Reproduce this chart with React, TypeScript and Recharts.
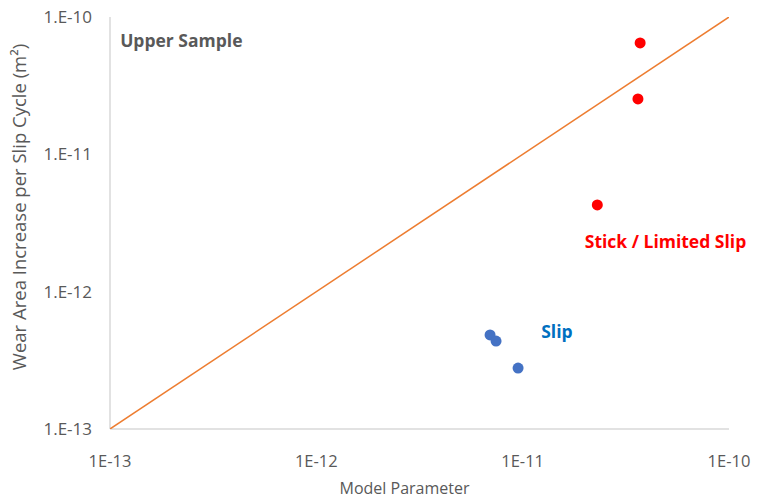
import React from "react"
import {
  ScatterChart,
  Scatter,
  XAxis,
  YAxis,
  ReferenceDot,
  Label,
} from "recharts"

const slipX = [6.95e-12, 7.43e-12, 9.5e-12]
const slipY = [4.84e-13, 4.37e-13, 2.78e-13]
const stickX = [3.71e-11, 3.62e-11, 2.3e-11]
const stickY = [6.47e-11, 2.53e-11, 4.28e-12]

// 1:1 reference line
const fitX = [1e-13, 1e-10]
const fitY = [1e-13, 1e-10]

const ticks = [1e-13, 1e-12, 1e-11, 1e-10]

const toPoints = (xs: number[], ys: number[]) => xs.map((x, i) => ({ x, y: ys[i] }))

const FONT = "'Open Sans', sans-serif"
const GREY = "#595959"

const expLabel = (v: number, dot: boolean) => {
  const e = Math.round(Math.log10(v))
  return dot ? `1.E${e}` : `1E${e}`
}

const annotations = [
  { x: 1.12e-13, y: 6.8e-11, text: "Upper Sample", color: GREY },
  { x: 1.23e-11, y: 5.18e-13, text: "Slip", color: "#0070C0" },
  { x: 2.0e-11, y: 2.34e-12, text: "Stick / Limited Slip", color: "#FF0000" },
]

export default function App() {
  return (
    <div style={{ position: "absolute", left: 0, top: 0, width: 757, height: 502, background: "#fff" }}>
      <ScatterChart width={757} height={502} margin={{ top: 17, right: 28, bottom: 13, left: 30 }}>
        <XAxis
          dataKey="x"
          type="number"
          scale="log"
          domain={[1e-13, 1e-10]}
          ticks={ticks}
          allowDataOverflow
          tickFormatter={(v) => expLabel(v, false)}
          tickLine={false}
          tickMargin={20}
          height={60}
          axisLine={{ stroke: "#D9D9D9", strokeWidth: 1.5 }}
          tick={{ fill: GREY, fontSize: 16.5, fontFamily: FONT }}
        >
          <Label
            content={(props: any) => {
              const vb = props.viewBox
              return (
                <text
                  x={vb.x + vb.width / 2 - 15}
                  y={vb.y + 59}
                  textAnchor="middle"
                  dominantBaseline="central"
                  fill={GREY}
                  fontSize={16}
                  fontFamily={FONT}
                >
                  Model Parameter
                </text>
              )
            }}
          />
        </XAxis>
        <YAxis
          dataKey="y"
          type="number"
          scale="log"
          domain={[1e-13, 1e-10]}
          ticks={ticks}
          allowDataOverflow
          tickFormatter={(v) => expLabel(v, true)}
          tickLine={false}
          tickMargin={12}
          width={80}
          axisLine={{ stroke: "#D9D9D9", strokeWidth: 1.5 }}
          tick={{ fill: GREY, fontSize: 17, fontFamily: FONT }}
        >
          <Label
            content={(props: any) => {
              const vb = props.viewBox
              const cx = vb.x - 12
              const cy = vb.y + vb.height / 2 - 16
              return (
                <text
                  x={cx}
                  y={cy}
                  transform={`rotate(-90 ${cx} ${cy})`}
                  textAnchor="middle"
                  dominantBaseline="central"
                  fill={GREY}
                  fontSize={18.5}
                  fontFamily={FONT}
                >
                  Wear Area Increase per Slip Cycle (m²)
                </text>
              )
            }}
          />
        </YAxis>
        <Scatter
          data={toPoints(fitX, fitY)}
          line={{ stroke: "#ED7D31", strokeWidth: 1.5 }}
          shape={() => null}
          isAnimationActive={false}
        />
        <Scatter data={toPoints(slipX, slipY)} fill="#4472C4" isAnimationActive={false} shape={(p: any) => <circle cx={p.cx} cy={p.cy} r={5.5} fill="#4472C4" />} />
        <Scatter data={toPoints(stickX, stickY)} fill="#FF0000" isAnimationActive={false} shape={(p: any) => <circle cx={p.cx} cy={p.cy} r={5.5} fill="#FF0000" />} />
        {annotations.map((a) => (
          <ReferenceDot
            key={a.text}
            x={a.x}
            y={a.y}
            r={0}
            ifOverflow="visible"
            label={(props: any) => (
              <text
                x={props.viewBox.x}
                y={props.viewBox.y}
                dominantBaseline="central"
                fill={a.color}
                fontSize={17.5}
                fontWeight="bold"
                fontFamily={FONT}
              >
                {a.text}
              </text>
            )}
          />
        ))}
      </ScatterChart>
    </div>
  )
}
